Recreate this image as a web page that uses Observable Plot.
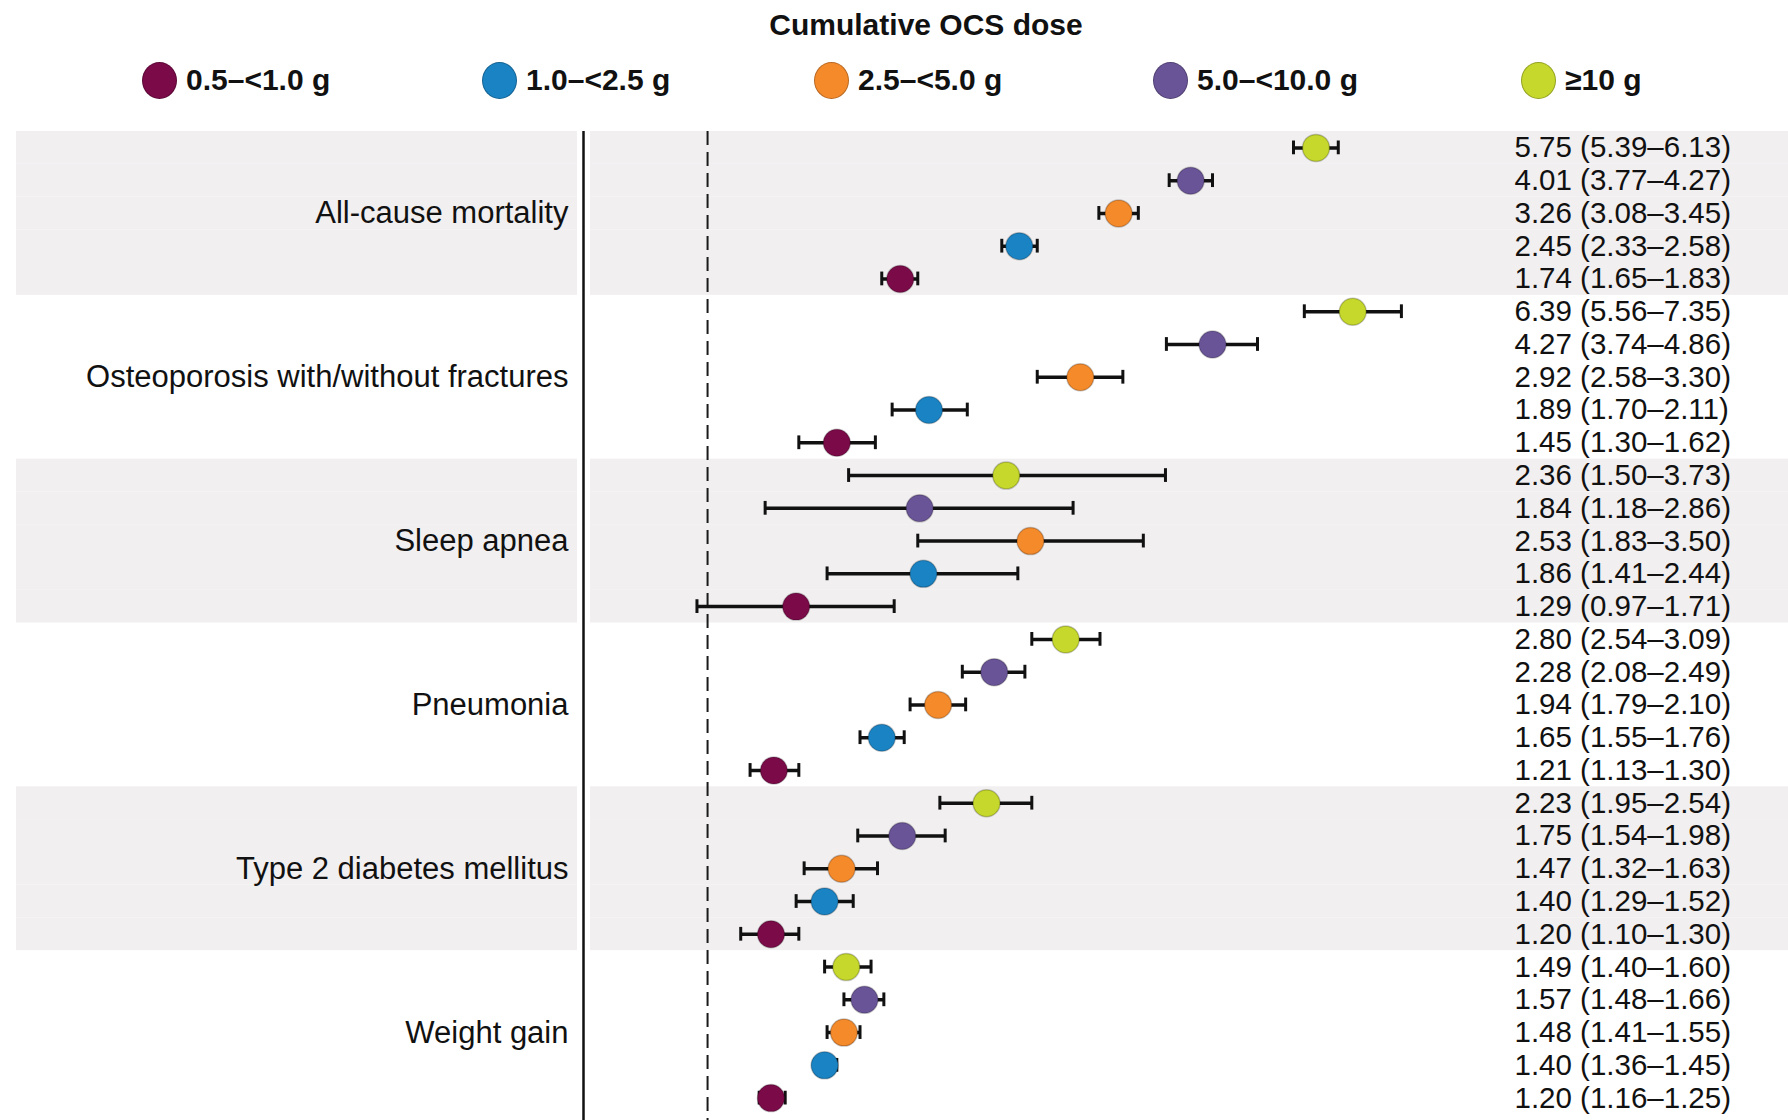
<!DOCTYPE html>
<html>
<head>
<meta charset="utf-8">
<script src="https://cdn.jsdelivr.net/npm/d3@7"></script>
<script src="https://cdn.jsdelivr.net/npm/@observablehq/plot@0.6"></script>
<style>
  html, body { margin: 0; padding: 0; background: #fff; overflow: hidden; }
  body { width: 1788px; height: 1120px; font-family: "Liberation Sans", Arial, sans-serif; color: #111; }
  #header { position: relative; height: 120px; width: 1788px; }
  #title { position: absolute; top: 9px; left: 0; width: 1788px; box-sizing: border-box; padding-left: 64px;
           text-align: center; font-size: 30px; font-weight: bold; line-height: 32px; }
  #legend { position: absolute; top: 60px; left: 142px; display: grid;
            grid-template-columns: 340px 332px 339px 368px auto; align-items: center; }
  .item { display: flex; align-items: center; height: 40px; }
  .sw { width: 35px; height: 37px; border-radius: 50%; box-sizing: border-box; border: 1.5px solid rgba(0,0,0,0.25); margin-right: 9px; }
  .lab { font-size: 30px; font-weight: bold; }
  #chart svg { display: block; }
</style>
</head>
<body>
<div id="header">
  <div id="title"></div>
  <div id="legend"></div>
</div>
<div id="chart"></div>
<script>
const titleText = "Cumulative OCS dose";
const outcomes = ["All-cause mortality", "Osteoporosis with/without fractures", "Sleep apnea", "Pneumonia", "Type 2 diabetes mellitus", "Weight gain"];
const doses = ["0.5–<1.0 g", "1.0–<2.5 g", "2.5–<5.0 g", "5.0–<10.0 g", "≥10 g"];
const doseColors = ["#7b0a48", "#1a83c3", "#f58a2b", "#6a5498", "#c5d82b"];

// hazard ratios, per outcome, in dose order (0.5–<1.0 g … ≥10 g)
const hr = [
  [1.74, 2.45, 3.26, 4.01, 5.75],
  [1.45, 1.89, 2.92, 4.27, 6.39],
  [1.29, 1.86, 2.53, 1.84, 2.36],
  [1.21, 1.65, 1.94, 2.28, 2.80],
  [1.20, 1.40, 1.47, 1.75, 2.23],
  [1.20, 1.40, 1.48, 1.57, 1.49]
];
const ciLow = [
  [1.65, 2.33, 3.08, 3.77, 5.39],
  [1.30, 1.70, 2.58, 3.74, 5.56],
  [0.97, 1.41, 1.83, 1.18, 1.50],
  [1.13, 1.55, 1.79, 2.08, 2.54],
  [1.10, 1.29, 1.32, 1.54, 1.95],
  [1.16, 1.36, 1.41, 1.48, 1.40]
];
const ciHigh = [
  [1.83, 2.58, 3.45, 4.27, 6.13],
  [1.62, 2.11, 3.30, 4.86, 7.35],
  [1.71, 2.44, 3.50, 2.86, 3.73],
  [1.30, 1.76, 2.10, 2.49, 3.09],
  [1.30, 1.52, 1.63, 1.98, 2.54],
  [1.25, 1.45, 1.55, 1.66, 1.60]
];
const xDomain = [0.7, 10];

// header
document.getElementById("title").textContent = titleText;
const legend = document.getElementById("legend");
doses.forEach((d, i) => {
  const it = document.createElement("div"); it.className = "item";
  const sw = document.createElement("div"); sw.className = "sw"; sw.style.background = doseColors[i];
  const lb = document.createElement("span"); lb.className = "lab"; lb.textContent = d;
  it.appendChild(sw); it.appendChild(lb); legend.appendChild(it);
});

// rows: within each outcome, highest dose on top
const rows = [];
outcomes.forEach((o, gi) => {
  for (let di = doses.length - 1; di >= 0; di--) {
    rows.push({row: `${gi}-${di}`, outcome: o, gi, dose: doses[di], hr: hr[gi][di], lo: ciLow[gi][di], hi: ciHigh[gi][di],
               pos: doses.length - 1 - di});
  }
});
const shaded = rows.filter(d => d.gi % 2 === 0);
const labelRows = rows.filter(d => d.pos === 2);
const fmt = v => v.toFixed(2);

const marginTop = 11;
const marginBottom = 6;
const chart = Plot.plot({
  width: 1788,
  height: 1000,
  marginLeft: 583,
  marginRight: 280,
  marginTop,
  marginBottom,
  style: {fontFamily: "'Liberation Sans', Arial, sans-serif", background: "white", color: "#111"},
  x: {type: "log", domain: xDomain, axis: null},
  y: {domain: rows.map(d => d.row), padding: 0, round: false, axis: null},
  color: {domain: doses, range: doseColors},
  marks: [
    Plot.barX(shaded, {y: "row", x1: xDomain[0], x2: xDomain[1], insetLeft: 7, insetRight: -280, fill: "#f1eff0"}),
    Plot.barX(shaded, {y: "row", x1: xDomain[0], x2: xDomain[0], insetLeft: -567, insetRight: 6, fill: "#f1eff0"}),
    Plot.ruleX([1], {stroke: "#1a1a1a", strokeWidth: 2, strokeDasharray: "14,7", insetBottom: -marginBottom}),
    Plot.ruleX([xDomain[0]], {stroke: "#111", strokeWidth: 2.5, insetBottom: -marginBottom}),
    Plot.ruleY(rows, {y: "row", x1: "lo", x2: "hi", stroke: "#111", strokeWidth: 3.5}),
    Plot.tickX(rows, {y: "row", x: "lo", stroke: "#111", strokeWidth: 3, insetTop: 9.5, insetBottom: 9.5}),
    Plot.tickX(rows, {y: "row", x: "hi", stroke: "#111", strokeWidth: 3, insetTop: 9.5, insetBottom: 9.5}),
    Plot.dot(rows, {y: "row", x: "hr", r: 13.5, fill: "dose", stroke: "rgba(0,0,0,0.22)", strokeWidth: 1.5}),
    Plot.text(rows, {y: "row", frameAnchor: "right", dx: 6, textAnchor: "start", fontSize: 29.5, fill: "#111",
                     text: d => `${fmt(d.hr)} (${fmt(d.lo)}–${fmt(d.hi)})`}),
    Plot.text(labelRows, {y: "row", frameAnchor: "left", dx: -15, textAnchor: "end", fontSize: 31, fill: "#111", text: "outcome"})
  ]
});
document.getElementById("chart").appendChild(chart);
</script>
</body>
</html>
